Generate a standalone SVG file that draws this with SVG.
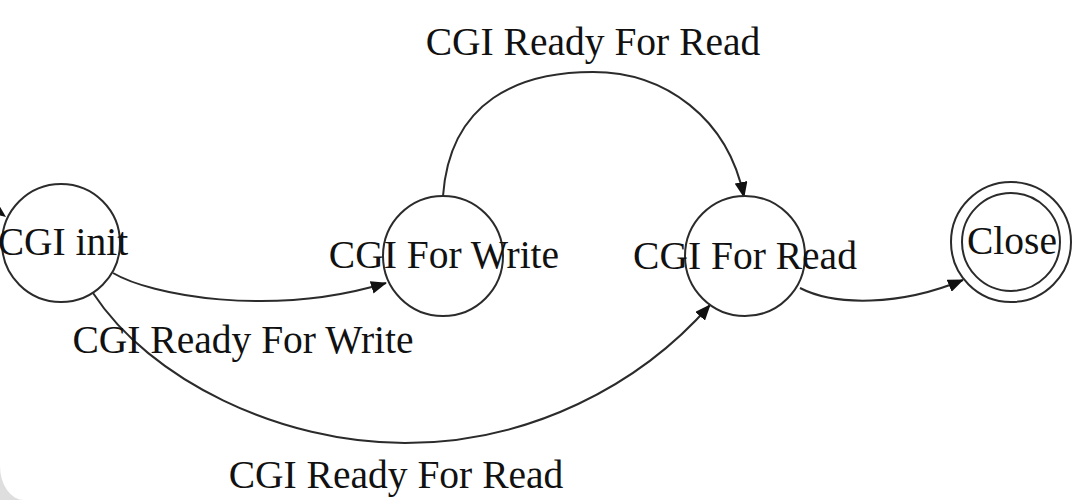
<svg xmlns="http://www.w3.org/2000/svg" width="1092" height="500" viewBox="0 0 1092 500">
<style>
.node{fill:#fff;stroke:#2b2b2b;stroke-width:2}
.edge{fill:none;stroke:#2b2b2b;stroke-width:2}
.t{font-family:"Liberation Serif","Times New Roman",serif;font-size:39.5px;fill:#111;text-anchor:middle}
</style>
<defs>
<marker id="arr" markerWidth="16" markerHeight="13" refX="15" refY="6.5" orient="auto" markerUnits="userSpaceOnUse">
<path d="M0,0 L16,6.5 L0,13 Z" fill="#111"/>
</marker>
</defs>
<rect width="1092" height="500" fill="#dedede"/>
<path d="M0,0 H1092 V500 H24 A24,34 0 0 1 0,466 Z" fill="#fff"/>
<g id="connectors">
<path class="edge" d="M113,273 C150,295 270,318 386,283" marker-end="url(#arr)"/>
<path class="edge" d="M93,293 C150,380 280,443 405,443 C530,443 640,385 710,305" marker-end="url(#arr)"/>
<path class="edge" d="M443,196 C450,100 520,72 593,72 C665,72 728,118 744,197" marker-end="url(#arr)"/>
<path class="edge" d="M800,288 C835,306 900,306 963,280" marker-end="url(#arr)"/>
<polygon points="-4,200 6,217 -6,214" fill="#111"/>
<text class="t" x="593" y="55">CGI Ready For Read</text>
<text class="t" x="243" y="353">CGI Ready For Write</text>
<text class="t" x="396" y="488">CGI Ready For Read</text>
</g>
<g id="cgi-init">
<circle class="node" cx="61" cy="243" r="59"/>
<text class="t" x="63" y="255">CGI init</text>
</g>
<g id="cgi-for-write">
<circle class="node" cx="443" cy="256" r="60"/>
<text class="t" x="444" y="268">CGI For Write</text>
</g>
<g id="cgi-for-read">
<circle class="node" cx="745" cy="256" r="60"/>
<text class="t" x="745" y="269">CGI For Read</text>
</g>
<g id="close">
<circle class="node" cx="1011" cy="242" r="60"/>
<circle class="node" cx="1011" cy="242" r="49"/>
<text class="t" x="1012" y="254">Close</text>
</g>
</svg>
